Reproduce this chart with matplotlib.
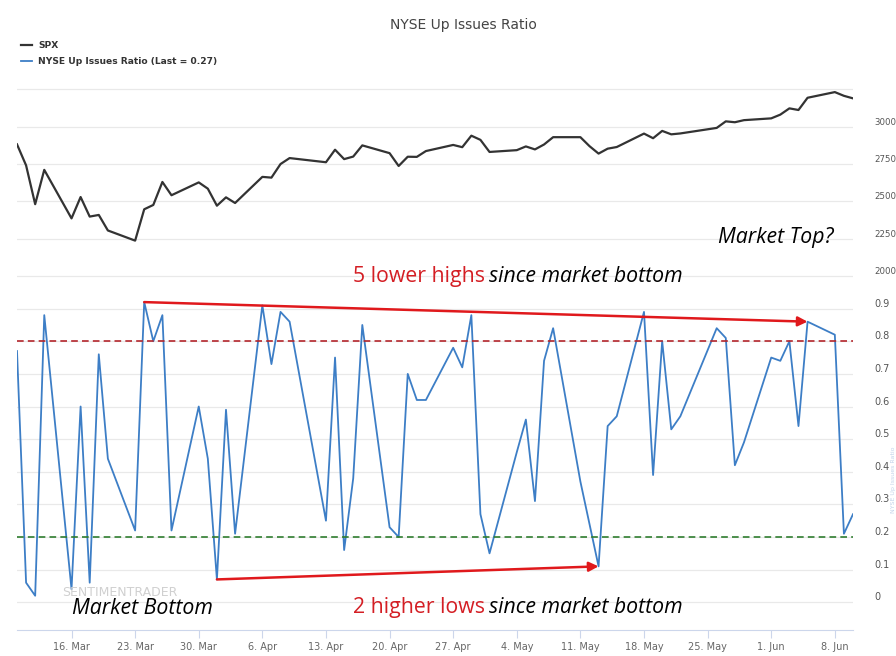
import matplotlib
matplotlib.use('Agg')
import matplotlib.pyplot as plt
import pandas as pd

# размеры картинки в пикселях
W, H = 896, 656

# данные: торговые дни, SPX и NYSE Up Issues Ratio
dates = pd.to_datetime([
    '2020-03-10', '2020-03-11', '2020-03-12', '2020-03-13',
    '2020-03-16', '2020-03-17', '2020-03-18', '2020-03-19', '2020-03-20',
    '2020-03-23', '2020-03-24', '2020-03-25', '2020-03-26', '2020-03-27',
    '2020-03-30', '2020-03-31', '2020-04-01', '2020-04-02', '2020-04-03',
    '2020-04-06', '2020-04-07', '2020-04-08', '2020-04-09',
    '2020-04-13', '2020-04-14', '2020-04-15', '2020-04-16', '2020-04-17',
    '2020-04-20', '2020-04-21', '2020-04-22', '2020-04-23', '2020-04-24',
    '2020-04-27', '2020-04-28', '2020-04-29', '2020-04-30', '2020-05-01',
    '2020-05-04', '2020-05-05', '2020-05-06', '2020-05-07', '2020-05-08',
    '2020-05-11', '2020-05-12', '2020-05-13', '2020-05-14', '2020-05-15',
    '2020-05-18', '2020-05-19', '2020-05-20', '2020-05-21', '2020-05-22',
    '2020-05-26', '2020-05-27', '2020-05-28', '2020-05-29',
    '2020-06-01', '2020-06-02', '2020-06-03', '2020-06-04', '2020-06-05',
    '2020-06-08', '2020-06-09', '2020-06-10',
])

spx = [
    2882, 2741, 2481, 2711,
    2386, 2529, 2398, 2409, 2305,
    2237, 2447, 2476, 2630, 2541,
    2627, 2585, 2471, 2527, 2489,
    2664, 2659, 2750, 2790,
    2762, 2846, 2783, 2800, 2875,
    2823, 2737, 2799, 2798, 2837,
    2878, 2863, 2940, 2912, 2831,
    2843, 2868, 2848, 2881, 2930,
    2930, 2870, 2820, 2853, 2864,
    2954, 2923, 2972, 2949, 2955,
    2992, 3036, 3030, 3044,
    3056, 3081, 3123, 3112, 3194,
    3232, 3207, 3190,
]

ratio = [
    0.77, 0.06, 0.02, 0.88,
    0.04, 0.60, 0.06, 0.76, 0.44,
    0.22, 0.92, 0.80, 0.88, 0.22,
    0.60, 0.44, 0.07, 0.59, 0.21,
    0.91, 0.73, 0.89, 0.86,
    0.25, 0.75, 0.16, 0.38, 0.85,
    0.23, 0.20, 0.70, 0.62, 0.62,
    0.78, 0.72, 0.88, 0.27, 0.15,
    0.46, 0.56, 0.31, 0.74, 0.84,
    0.37, 0.24, 0.11, 0.54, 0.57,
    0.89, 0.39, 0.80, 0.53, 0.57,
    0.84, 0.81, 0.42, 0.49,
    0.75, 0.74, 0.80, 0.54, 0.86,
    0.82, 0.21, 0.27,
]

spx_ticks = [2000, 2250, 2500, 2750, 3000, 3250]
spx_labels = ['2000', '2250', '2500', '2750', '3000', '']
ratio_ticks = [0, 0.1, 0.2, 0.3, 0.4, 0.5, 0.6, 0.7, 0.8, 0.9, 1.0]
ratio_labels = ['0', '0.1', '0.2', '0.3', '0.4', '0.5', '0.6', '0.7', '0.8', '0.9', '']
upper_level = 0.8
lower_level = 0.2

# точки, между которыми рисуем красные стрелки
high_from, high_to = '2020-03-24', '2020-06-05'
low_from, low_to = '2020-04-01', '2020-05-13'

# цвета
spx_color = '#333333'
ratio_color = '#3d7ec6'
arrow_color = '#e0191c'
grid_color = '#e9e9e9'
label_color = '#555555'


def fx(px):
    return px / W


def fy(py):
    return 1 - py / H


fig = plt.figure(figsize=(W / 100, H / 100), dpi=100)

left, right = 17, 853
ax_top = fig.add_axes([fx(left), fy(276), (right - left) / W, (276 - 80) / H])
ax_bot = fig.add_axes([fx(left), fy(630), (right - left) / W, (630 - 276) / H],
                      sharex=ax_top)

# верхняя панель - SPX
line_spx, = ax_top.plot(dates, spx, color=spx_color, lw=1.6)
ax_top.set_ylim(2000, 3313)

# нижняя панель - ratio
line_ratio, = ax_bot.plot(dates, ratio, color=ratio_color, lw=1.3)
ax_bot.set_ylim(-0.085, 1.0)
ax_bot.axhline(upper_level, color='#b3262c', lw=1.2, ls=(0, (4, 2.5)))
ax_bot.axhline(lower_level, color='#2f7d2f', lw=1.2, ls=(0, (4, 2.5)))

for ax, ticks, labels, fs in ((ax_top, spx_ticks, spx_labels, 6.2),
                              (ax_bot, ratio_ticks, ratio_labels, 7)):
    for s in ax.spines.values():
        s.set_visible(False)
    ax.yaxis.tick_right()
    ax.set_yticks(ticks, labels)
    ax.tick_params(axis='y', length=0, pad=15.5, labelsize=fs, labelcolor=label_color)
    for lab in ax.get_yticklabels():
        lab.set_verticalalignment('bottom')
    ax.grid(axis='y', color=grid_color, lw=0.9)
    ax.set_axisbelow(True)
    ax.set_facecolor('none')

ax_top.tick_params(axis='x', bottom=False, labelbottom=False)

# ось x - понедельники
week_ticks = pd.date_range('2020-03-16', '2020-06-08', freq='7D')
ax_bot.set_xticks(week_ticks, [f'{d.day}. {d.strftime("%b")}' for d in week_ticks])
ax_bot.set_xlim(dates[0], dates[-1])
ax_bot.spines['bottom'].set_visible(True)
ax_bot.spines['bottom'].set_color('#ccd6eb')
ax_bot.tick_params(axis='x', length=6, color='#ccd6eb', labelsize=7,
                   labelcolor='#666666', pad=3)

# красные стрелки между максимумами и минимумами
i = dates.get_loc(pd.Timestamp(high_from))
j = dates.get_loc(pd.Timestamp(high_to))
ax_bot.annotate('', xy=(dates[j], ratio[j]), xytext=(dates[i], ratio[i]),
                arrowprops=dict(arrowstyle='-|>', color=arrow_color, lw=1.8,
                                mutation_scale=14, shrinkA=0, shrinkB=0))
i = dates.get_loc(pd.Timestamp(low_from))
j = dates.get_loc(pd.Timestamp(low_to))
ax_bot.annotate('', xy=(dates[j], ratio[j]), xytext=(dates[i], ratio[i]),
                arrowprops=dict(arrowstyle='-|>', color=arrow_color, lw=1.8,
                                mutation_scale=14, shrinkA=0, shrinkB=0))

# заголовок и легенда
fig.text(fx(463), fy(25), 'NYSE Up Issues Ratio', ha='center', va='center',
         size=10, color='#444444')
fig.legend([line_spx, line_ratio], ['SPX', 'NYSE Up Issues Ratio (Last = 0.27)'],
           loc='upper left', bbox_to_anchor=(fx(21), fy(41)), frameon=False,
           prop=dict(size=6.6, weight='bold'), labelcolor='#333333',
           handlelength=1.15, handletextpad=0.75, labelspacing=0.75,
           borderpad=0, borderaxespad=0)

# подписи
big = dict(size=15.3, family=['Open Sans', 'DejaVu Sans'])
fig.text(fx(718), fy(243), 'Market Top?', style='italic', color='black', **big)
fig.text(fx(72), fy(614), 'Market Bottom', style='italic', color='black', **big)
fig.text(fx(353), fy(282), '5 lower highs', color='#d41e24', **big)
fig.text(fx(489), fy(282), 'since market bottom', style='italic', color='black', **big)
fig.text(fx(353), fy(613), '2 higher lows', color='#d41e24', **big)
fig.text(fx(489), fy(613), 'since market bottom', style='italic', color='black', **big)

# водяной знак
fig.text(fx(62), fy(593), 'SENTIMENTRADER', size=9, color='#d0d0d0', va='center')
fig.text(fx(893), fy(480), 'NYSE Up Issues Ratio', size=4.5, color='#c2d4ea',
         rotation=90, ha='center', va='center')

fig.savefig('out.png', dpi=100)
